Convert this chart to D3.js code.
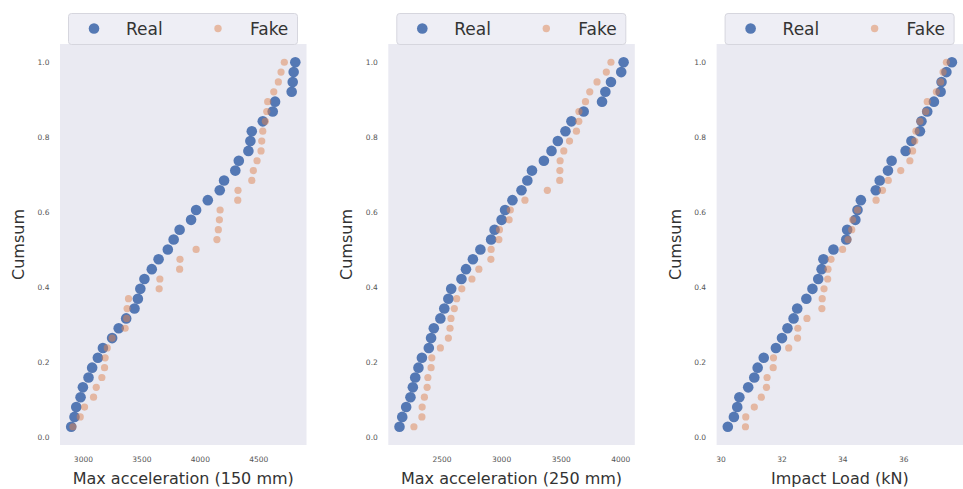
<!DOCTYPE html>
<html>
<head>
  <meta charset="UTF-8">
  <script src="https://cdn.jsdelivr.net/npm/d3@7"></script>
  <style>
    body { margin: 0; background: #fff; }
    text { font-family: "DejaVu Sans", sans-serif; }
  </style>
</head>
<body>
  <script>
    // sorted samples, one value per rank (cumsum = rank / n)
    var realAcc150 = [2900, 2928, 2943, 2980, 3000, 3048, 3079, 3128, 3171, 3250,
      3306, 3370, 3441, 3470, 3491, 3526, 3589, 3647, 3726, 3776,
      3827, 3925, 3968, 4068, 4170, 4207, 4303, 4333, 4415, 4432,
      4444, 4538, 4623, 4643, 4785, 4794, 4802, 4816];
    var fakeAcc150 = [2915, 2977, 3014, 3091, 3114, 3162, 3185, 3190, 3208, 3250,
      3361, 3374, 3378, 3390, 3652, 3658, 3827, 3830, 3968, 4146,
      4158, 4167, 4173, 4324, 4326, 4444, 4457, 4489, 4523, 4529,
      4538, 4560, 4572, 4580, 4632, 4671, 4694, 4722];

    var realAcc250 = [2147, 2170, 2203, 2239, 2259, 2279, 2306, 2335, 2393, 2412,
      2435, 2490, 2523, 2557, 2581, 2667, 2705, 2763, 2826, 2916,
      2945, 3004, 3033, 3095, 3171, 3220, 3259, 3359, 3423, 3476,
      3540, 3590, 3693, 3847, 3875, 3922, 4008, 4028];
    var fakeAcc250 = [2268, 2335, 2337, 2356, 2379, 2385, 2412, 2418, 2490, 2557,
      2571, 2579, 2607, 2627, 2670, 2755, 2813, 2914, 2916, 2981,
      2986, 3067, 3077, 3200, 3388, 3492, 3493, 3495, 3526, 3574,
      3632, 3652, 3653, 3708, 3744, 3805, 3883, 3922];

    var realLoad = [30.24, 30.44, 30.55, 30.62, 30.91, 31.11, 31.22, 31.42, 31.82, 32.02,
      32.20, 32.40, 32.52, 32.82, 33.02, 33.21, 33.32, 33.38, 33.71, 34.13,
      34.16, 34.43, 34.50, 34.61, 35.10, 35.23, 35.50, 35.62, 36.08, 36.27,
      36.55, 36.60, 36.79, 37.01, 37.23, 37.26, 37.42, 37.60];
    var fakeLoad = [30.82, 30.83, 31.11, 31.34, 31.51, 31.53, 31.73, 31.74, 32.24, 32.53,
      32.54, 32.84, 33.33, 33.34, 33.40, 33.52, 33.53, 33.63, 34.01, 34.19,
      34.31, 34.34, 34.50, 35.11, 35.32, 35.51, 35.92, 36.22, 36.31, 36.38,
      36.42, 36.55, 36.74, 36.79, 37.09, 37.23, 37.31, 37.42];

    var xLabels = ["Max acceleration (150 mm)", "Max acceleration (250 mm)", "Impact Load (kN)"];
    var xTicks = [[3000, 3500, 4000, 4500], [2500, 3000, 3500, 4000], [30, 32, 34, 36]];
    var yTicks = [0, 0.2, 0.4, 0.6, 0.8, 1.0];
    var seriesNames = ["Real", "Fake"];

    var panels = [
      { real: realAcc150, fake: fakeAcc150, label: xLabels[0], ticks: xTicks[0] },
      { real: realAcc250, fake: fakeAcc250, label: xLabels[1], ticks: xTicks[1] },
      { real: realLoad, fake: fakeLoad, label: xLabels[2], ticks: xTicks[2] }
    ];

    var width = 963;
    var height = 489;
    var svg = d3.select("body")
      .append("svg")
      .attr("width", width)
      .attr("height", height);

    var blue = "#4c72b0";
    var orange = "#dd8452";
    var plotW = 246.5;
    var plotTop = 44, plotBottom = 445;

    // matplotlib style 5% padding
    function padded(lo, hi) {
      var m = (hi - lo) * 0.05;
      return [lo - m, hi + m];
    }

    panels.forEach(function(p, k) {
      var left = 60 + k * 328.3;
      var n = p.real.length;
      var toPts = function(arr) {
        return arr.map(function(v, i) { return { x: v, y: (i + 1) / n }; });
      };
      var realPts = toPts(p.real);
      var fakePts = toPts(p.fake);
      var all = p.real.concat(p.fake);

      var x = d3.scaleLinear()
        .domain(padded(d3.min(all), d3.max(all)))
        .range([left, left + plotW]);
      var y = d3.scaleLinear()
        .domain(padded(1 / n, 1))
        .range([plotBottom, plotTop]);

      var g = svg.append("g");

      g.append("rect")
        .attr("x", left).attr("y", plotTop)
        .attr("width", plotW).attr("height", plotBottom - plotTop)
        .attr("fill", "#eaeaf2");

      // axes without lines, just labels
      var xAxis = g.append("g")
        .attr("transform", "translate(0," + plotBottom + ")")
        .call(d3.axisBottom(x).tickValues(p.ticks).tickFormat(d3.format("d"))
          .tickSize(0).tickPadding(12));
      var yAxis = g.append("g")
        .attr("transform", "translate(" + left + ",0)")
        .call(d3.axisLeft(y).tickValues(yTicks).tickFormat(d3.format(".1f"))
          .tickSize(0).tickPadding(10.5));
      [xAxis, yAxis].forEach(function(a) {
        a.select(".domain").remove();
        a.selectAll("text")
          .attr("fill", "#555")
          .style("font-size", "7.5px")
          .style("font-family", "'DejaVu Sans', sans-serif");
      });

      g.selectAll(".real").data(realPts).enter().append("circle")
        .attr("class", "real")
        .attr("cx", function(d) { return x(d.x); })
        .attr("cy", function(d) { return y(d.y); })
        .attr("r", 5.3)
        .attr("fill", blue)
        .attr("opacity", 0.95);

      g.selectAll(".fake").data(fakePts).enter().append("circle")
        .attr("class", "fake")
        .attr("cx", function(d) { return x(d.x); })
        .attr("cy", function(d) { return y(d.y); })
        .attr("r", 3.6)
        .attr("fill", orange)
        .attr("opacity", 0.5);

      g.append("text")
        .attr("x", left + plotW / 2)
        .attr("y", 484)
        .attr("text-anchor", "middle")
        .attr("fill", "#333")
        .style("font-size", "16px")
        .text(p.label);

      g.append("text")
        .attr("transform", "translate(" + (left - 36) + "," + ((plotTop + plotBottom) / 2) + ") rotate(-90)")
        .attr("text-anchor", "middle")
        .attr("fill", "#333")
        .style("font-size", "16px")
        .text("Cumsum");

      // legend
      var lx = left + 8;
      var legend = g.append("g").attr("transform", "translate(" + lx + ",13)");
      legend.append("rect")
        .attr("x", 0.5).attr("y", 0.5)
        .attr("width", 229).attr("height", 31)
        .attr("rx", 3)
        .attr("fill", "#eeeef5")
        .attr("stroke", "#d6d6de");
      var items = [
        { name: seriesNames[0], color: blue, r: 5.3, op: 0.95, mx: 26, tx: 58 },
        { name: seriesNames[1], color: orange, r: 3.7, op: 0.5, mx: 150, tx: 182 }
      ];
      items.forEach(function(it) {
        legend.append("circle")
          .attr("cx", it.mx).attr("cy", 15.5)
          .attr("r", it.r)
          .attr("fill", it.color)
          .attr("opacity", it.op);
        legend.append("text")
          .attr("x", it.tx).attr("y", 21.5)
          .attr("fill", "#333")
          .style("font-size", "17px")
          .text(it.name);
      });
    });
  </script>
</body>
</html>
